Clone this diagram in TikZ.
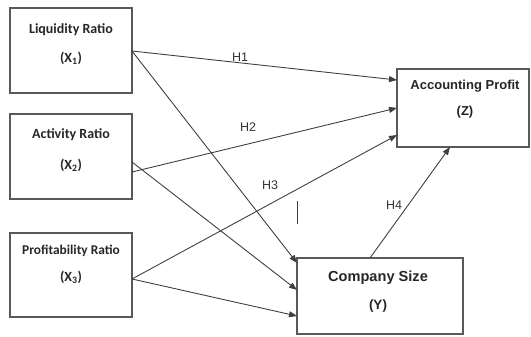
\documentclass[tikz,border=0pt]{standalone}
\usepackage{fontspec}
\setmainfont{Carlito}
\newfontfamily\arialf{Liberation Sans}
\usetikzlibrary{arrows.meta}
\begin{document}
\begin{tikzpicture}[x=1pt,y=-1pt,
  box/.style={draw=black!65, line width=1.1pt},
  lbl/.style={font=\bfseries\fontsize{14}{16}\selectfont, text=black!85, align=center, inner sep=0},
  rlbl/.style={font=\arialf\bfseries\fontsize{13}{15}\selectfont, text=black!85, align=center, inner sep=0},
  conn/.style={draw=black!75, line width=0.9pt},
  arr/.style={conn, -{Triangle[length=8pt,width=6pt]}},
  hl/.style={font=\arialf\fontsize{12.5}{14}\selectfont, text=black!80, inner sep=0}]
\useasboundingbox (0,0) rectangle (531,337);
% boxes
\draw[box] (10,8) rectangle (132,93);
\draw[box] (10,114) rectangle (132,199);
\draw[box] (10,233) rectangle (132,317);
\draw[box] (397,69) rectangle (529,147);
\draw[box] (297,258) rectangle (463,334);
% texts
\node[lbl] (t1) at (71,30) {Liquidity Ratio};
\node[lbl] (s1) at (71,58) {(X\textsubscript{1})};
\node[lbl] (t2) at (71,135) {Activity Ratio};
\node[lbl] (s2) at (71,165) {(X\textsubscript{2})};
\node[lbl,font=\bfseries\fontsize{13.4}{15}\selectfont] (t3) at (71,251) {Profitability Ratio};
\node[lbl] (s3) at (71,277) {(X\textsubscript{3})};
\node[rlbl] (tz) at (465,86) {Accounting Profit};
\node[rlbl] (sz) at (465,112) {(Z)};
\node[rlbl,font=\arialf\bfseries\fontsize{14.6}{16}\selectfont] (ty) at (378,278) {Company Size};
\node[rlbl,font=\arialf\bfseries\fontsize{13.5}{15}\selectfont] (sy) at (378,306) {(Y)};
% anchor coordinates
\coordinate (o1) at (132,51);
\coordinate (o2a) at (132,172);
\coordinate (o2b) at (132,162);
\coordinate (o3) at (132,279);
\coordinate (z1) at (397,80);
\coordinate (z2) at (397,108);
\coordinate (z3) at (397,135);
\coordinate (zb) at (450,147);
\coordinate (y1) at (297,263);
\coordinate (y2) at (297,290);
\coordinate (y3) at (297,316);
\coordinate (yt) at (370,258);
% connectors
\draw[arr] (o1) -- (z1);
\draw[arr] (o1) -- (y1);
\draw[arr] (o2a) -- (z2);
\draw[arr] (o2b) -- (y2);
\draw[arr] (o3) -- (z3);
\draw[arr] (o3) -- (y3);
\draw[arr] (yt) -- (zb);
% labels
\node[hl] (h1) at (240,57) {H1};
\node[hl] (h2) at (248,127) {H2};
\node[hl] (h3) at (270,185) {H3};
\node[hl] (h4) at (394,205) {H4};
\coordinate (m1) at (297,201);
\coordinate (m2) at (297,224);
\draw[conn] (m1) -- (m2);
\end{tikzpicture}
\end{document}
